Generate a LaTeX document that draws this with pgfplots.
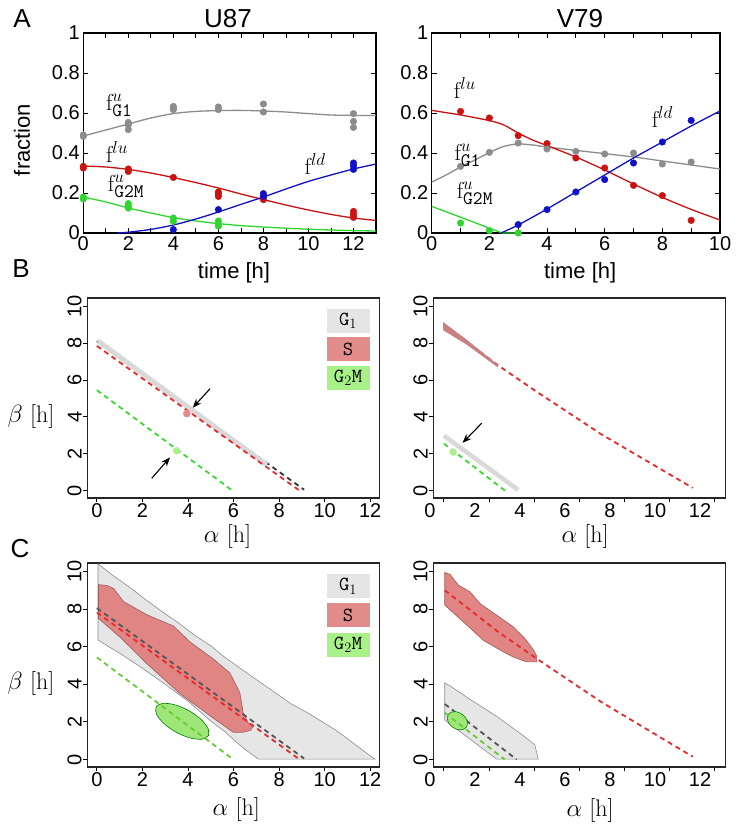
\documentclass[border=0pt]{standalone}
\usepackage{pgfplots}
\pgfplotsset{compat=1.18}
\usetikzlibrary{arrows.meta}
\usepackage{fontspec}
\setsansfont{Liberation Sans}
\DeclareMathSizes{23}{23}{19}{14}
\definecolor{agray}{HTML}{8C8C8C}
\definecolor{ared}{HTML}{CC1111}
\definecolor{agreen}{HTML}{2ED62E}
\definecolor{ablue}{HTML}{1010CC}
\definecolor{bandgray}{HTML}{D9D9D9}
\definecolor{dred}{HTML}{E82A2A}
\definecolor{dgreen}{HTML}{3ADB2E}
\definecolor{dgreenC}{HTML}{66CC33}
\definecolor{dgray}{HTML}{555555}
\definecolor{legG}{HTML}{E5E5E5}
\definecolor{legS}{HTML}{E28C8C}
\definecolor{legM}{HTML}{A8F088}
\definecolor{regG}{HTML}{E6E6E6}
\definecolor{regS}{HTML}{E08484}
\definecolor{regM}{HTML}{9EE677}
\definecolor{bandS}{HTML}{C98080}
\tikzset{
  ann/.style={font=\fontsize{23}{23}\selectfont, inner sep=0pt},
  arr/.style={black, line width=1.1pt, -{Stealth[length=9pt,width=7pt]}},
  ddash/.style={line width=1.8pt, dash pattern=on 5pt off 4pt}
}
\pgfplotsset{
  Aax/.style={scale only axis, height=200pt, ymin=0, ymax=1, xmin=0,
    ytick={0,0.2,0.4,0.6,0.8,1}, yticklabels={0,0.2,0.4,0.6,0.8,1},
    tick align=inside, minor x tick num=1,
    major tick length=5pt, minor tick length=5pt,
    tick style={black, line width=0.8pt},
    axis line style={line width=1.3pt},
    ticklabel style={font=\sffamily\fontsize{20}{20}\selectfont},
    /pgf/number format/assume math mode=true,
    xlabel={time [h]},
    label style={font=\sffamily\fontsize{22}{22}\selectfont},
    xlabel style={at={(axis description cs:0.515,-0.2)}, anchor=center},
    clip mode=individual},
  Bax/.style={scale only axis, width=292pt, ymin=-0.4, ymax=10.45,
    xtick={0,2,...,12}, ytick={0,2,...,10},
    tick align=outside, tick pos=left,
    major tick length=4pt,
    tick style={black, line width=0.8pt},
    axis line style={line width=1.6pt, black!85},
    ticklabel style={font=\sffamily\fontsize{20}{20}\selectfont, inner sep=1.5pt},
    yticklabel style={rotate=90, anchor=south},
    /pgf/number format/assume math mode=true,
    xlabel={$\alpha$ [h]},
    label style={font=\fontsize{24}{24}\selectfont},
    clip mode=individual},
  fdot/.style={only marks, mark=*, mark size=3.3pt}
}
\newcommand{\legboxes}{%
  \node[fill=legG, minimum width=43pt, minimum height=24pt, inner sep=0pt, font=\fontsize{20}{20}\selectfont] at (rel axis cs:0.893,0.886) {\texttt{G}$_1$};
  \node[fill=legS, minimum width=43pt, minimum height=24pt, inner sep=0pt, font=\fontsize{20}{20}\selectfont] at (rel axis cs:0.893,0.743) {\texttt{S}};
  \node[fill=legM, minimum width=43pt, minimum height=24pt, inner sep=0pt, font=\fontsize{20}{20}\selectfont] at (rel axis cs:0.893,0.600) {\texttt{G}$_2$\texttt{M}};
}
\begin{document}
\begin{tikzpicture}
\useasboundingbox (0pt,0pt) rectangle (739pt,-834pt);
\node[font=\sffamily\fontsize{26}{26}\selectfont] at (22pt,-19pt) {A};
\node[font=\sffamily\fontsize{26}{26}\selectfont] at (21pt,-269pt) {B};
\node[font=\sffamily\fontsize{26}{26}\selectfont] at (20pt,-549pt) {C};
\node[font=\sffamily\fontsize{26}{26}\selectfont] at (228pt,-19pt) {U87};
\node[font=\sffamily\fontsize{26}{26}\selectfont] at (580pt,-19pt) {V79};

% ---------------- A left (U87)
\begin{axis}[Aax, at={(83.3pt,-233pt)}, anchor=south west, width=292.7pt,
  xmax=13, xtick={0,2,...,12},
  ylabel={fraction},
  ylabel style={at={(axis description cs:-0.209,0.465)}, anchor=center}]
\addplot[agray, line width=1.3pt, smooth] coordinates {(0,0.485)(1,0.515)(2,0.545)(3,0.575)(4,0.597)(5,0.608)(6,0.612)(7,0.613)(8,0.61)(9,0.605)(10,0.597)(11,0.59)(12,0.588)(13,0.588)};
\addplot[ared, line width=1.3pt, smooth] coordinates {(0,0.335)(1,0.33)(2,0.318)(3,0.3)(4,0.277)(5,0.252)(6,0.225)(7,0.195)(8,0.167)(9,0.14)(10,0.115)(11,0.093)(12,0.075)(13,0.063)};
\addplot[agreen, line width=1.3pt, smooth] coordinates {(0,0.18)(1,0.155)(2,0.125)(3,0.1)(4,0.077)(5,0.06)(6,0.047)(7,0.037)(8,0.03)(9,0.024)(10,0.019)(11,0.015)(12,0.012)(13,0.01)};
\addplot[ablue, line width=1.3pt, smooth] coordinates {(1.5,0.0)(2,0.004)(3,0.018)(4,0.04)(5,0.07)(6,0.105)(7,0.143)(8,0.18)(9,0.22)(10,0.258)(11,0.29)(12,0.32)(13,0.345)};
\addplot[fdot, agray] coordinates {(0,0.49)(0,0.483)(2,0.553)(2,0.54)(2,0.517)(4,0.633)(4,0.625)(4,0.617)(6,0.63)(6,0.617)(8,0.645)(8,0.605)(12,0.597)(12,0.558)(12,0.528)};
\addplot[fdot, ared] coordinates {(0,0.333)(0,0.325)(2,0.32)(2,0.308)(4,0.278)(6,0.205)(6,0.195)(6,0.183)(8,0.18)(8,0.167)(12,0.108)(12,0.092)(12,0.078)};
\addplot[fdot, agreen] coordinates {(0,0.18)(0,0.17)(2,0.147)(2,0.135)(2,0.125)(4,0.075)(4,0.058)(6,0.06)(6,0.045)(6,0.035)};
\addplot[fdot, ablue] coordinates {(4,0.017)(6,0.117)(8,0.197)(8,0.183)(12,0.35)(12,0.335)(12,0.318)};
\node[ann] at (axis cs:1.6,0.64) {$\mathrm{f}^{u}_{\mathtt{G1}}$};
\node[ann] at (axis cs:1.5,0.405) {$\mathrm{f}^{lu}$};
\node[ann] at (axis cs:1.9,0.235) {$\mathrm{f}^{u}_{\mathtt{G2M}}$};
\node[ann] at (axis cs:10.3,0.345) {$\mathrm{f}^{ld}$};
\end{axis}

% ---------------- A right (V79)
\begin{axis}[Aax, at={(431.7pt,-233pt)}, anchor=south west, width=288.3pt,
  xmax=10, xtick={0,2,...,10}]
\addplot[agray, line width=1.3pt, smooth] coordinates {(0,0.255)(0.5,0.29)(1,0.33)(1.5,0.365)(2,0.402)(2.5,0.433)(3,0.445)(3.5,0.44)(4,0.43)(5,0.413)(6,0.397)(7,0.38)(8,0.36)(9,0.34)(10,0.32)};
\addplot[ared, line width=1.3pt, smooth] coordinates {(0,0.613)(1,0.59)(2,0.562)(2.5,0.54)(3,0.5)(3.5,0.465)(4,0.437)(5,0.38)(6,0.315)(7,0.245)(8,0.178)(9,0.118)(10,0.065)};
\addplot[agreen, line width=1.3pt] coordinates {(0,0.133)(1,0.079)(2,0.024)(2.45,0)(3,0)};
\addplot[ablue, line width=1.3pt, smooth] coordinates {(2.4,0)(3,0.04)(4,0.12)(5,0.205)(6,0.29)(7,0.375)(8,0.455)(9,0.535)(10,0.61)};
\addplot[fdot, ared] coordinates {(1,0.608)(2,0.575)(3,0.487)(4,0.447)(5,0.375)(6,0.325)(7,0.238)(8,0.187)(9,0.063)};
\addplot[fdot, agray] coordinates {(1,0.333)(2,0.403)(3,0.45)(4,0.42)(5,0.408)(6,0.395)(7,0.4)(8,0.345)(9,0.355)};
\addplot[fdot, ablue] coordinates {(3,0.042)(4,0.117)(5,0.205)(6,0.267)(7,0.35)(8,0.455)(9,0.563)};
\addplot[fdot, agreen] coordinates {(1,0.05)(2,0.012)(3,0.0)};
\node[ann] at (axis cs:1.15,0.725) {$\mathrm{f}^{lu}$};
\node[ann] at (axis cs:1.25,0.39) {$\mathrm{f}^{u}_{\mathtt{G1}}$};
\node[ann] at (axis cs:1.5,0.2) {$\mathrm{f}^{u}_{\mathtt{G2M}}$};
\node[ann] at (axis cs:8.0,0.578) {$\mathrm{f}^{ld}$};
\end{axis}

% ---------------- B left
\begin{axis}[Bax, at={(87.3pt,-498pt)}, anchor=south west, height=200pt,
  xmin=-0.42, xmax=12.4,
  xlabel style={at={(axis description cs:0.48,-0.19)}, anchor=center},
  ylabel={$\beta$ [h]},
  ylabel style={rotate=-90, at={(axis description cs:-0.193,0.41)}, anchor=center}]
\addplot[dgray!60!black, ddash] coordinates {(0,8.1)(9.1,0.05)};
\addplot[bandgray, line width=5pt] coordinates {(0.05,8.12)(7.45,1.4)};
\addplot[dred, ddash] coordinates {(0,7.85)(8.9,0)};
\addplot[dgreen, ddash] coordinates {(0,5.45)(5.95,0)};
\addplot[only marks, mark=*, mark size=3.6pt, legS] coordinates {(3.95,4.18)};
\addplot[only marks, mark=*, mark size=3.4pt, legM] coordinates {(3.5,2.16)};
\addplot[arr] coordinates {(4.97,5.53)(4.21,4.5)};
\addplot[arr] coordinates {(2.41,0.67)(3.21,1.8)};
\legboxes
\end{axis}

% ---------------- B right
\begin{axis}[Bax, at={(433.3pt,-498pt)}, anchor=south west, height=200pt,
  xmin=-0.47, xmax=12.5,
  xticklabel style={xshift=-14pt},
  xlabel style={at={(axis description cs:0.52,-0.19)}, anchor=center}]
\addplot[dred, ddash] coordinates {(0,9.02)(2.4,6.8)(4.2,5.3)(7,3.05)(11.05,0.15)};
\addplot[bandS, fill=bandS, draw=none] coordinates {(-0.03,9.14)(1.0,8.2)(2.4,6.82)(2.4,6.68)(1.0,7.93)(-0.03,8.7)} -- cycle;
\addplot[bandgray, line width=4.5pt] coordinates {(0,2.98)(3.3,0.04)};
\addplot[dgreen, ddash] coordinates {(0,2.55)(2.71,0)};
\addplot[only marks, mark=*, mark size=3.4pt, legM] coordinates {(0.41,2.09)};
\addplot[arr] coordinates {(1.68,3.66)(0.83,2.59)};
\end{axis}

% ---------------- C left
\begin{axis}[Bax, at={(87.3pt,-767pt)}, anchor=south west, height=204pt,
  xmin=-0.42, xmax=12.4,
  xlabel style={at={(axis description cs:0.51,-0.206)}, anchor=center},
  ylabel={$\beta$ [h]},
  ylabel style={rotate=-90, at={(axis description cs:-0.193,0.41)}, anchor=center}]
\addplot[fill=regG, draw=agray, line width=0.6pt] coordinates {(0.05,10.4)(0.7,9.8)(1.5,9.1)(2.2,8.45)(3.0,7.75)(3.6,7.25)(4.3,6.6)(5.0,6.05)(5.6,5.45)(6.3,4.85)(7.0,4.25)(7.6,3.75)(8.5,2.98)(9.3,2.45)(9.9,2.0)(10.5,1.55)(10.9,1.2)(11.55,0.6)(12.2,0.02)(7.1,0.02)(6.6,0.45)(6.1,0.95)(5.6,1.5)(5.0,2.05)(4.0,3.1)(3.0,4.0)(2.0,4.85)(1.0,5.65)(0.05,6.35)} -- cycle;
\addplot[fill=regS, draw=regS!70!black, line width=0.6pt] coordinates {(0.07,9.3)(0.45,9.25)(0.73,9.1)(1.17,8.4)(2.19,7.7)(3.36,7.1)(4.09,6.25)(5.11,5.35)(5.84,4.6)(6.28,3.55)(6.42,2.5)(6.64,1.95)(6.85,1.75)(6.75,1.55)(6.42,1.45)(5.98,1.45)(5.11,2.2)(3.65,3.5)(2.19,5.1)(1.02,6.5)(0.07,7.5)} -- cycle;
\addplot[fill=regM, draw=green!50!black, line width=0.6pt, smooth] coordinates {(4.899,1.269)(4.876,1.664)(4.553,2.156)(4.013,2.615)(3.403,2.918)(2.886,2.982)(2.601,2.791)(2.624,2.396)(2.947,1.904)(3.487,1.445)(4.097,1.142)(4.614,1.078)(4.899,1.269)};
\addplot[dgray, ddash] coordinates {(0,8.05)(9.1,0.05)};
\addplot[dred, ddash] coordinates {(0,7.82)(8.9,0)};
\addplot[dgreenC, ddash] coordinates {(0,5.43)(5.99,0)};
\legboxes
\end{axis}

% ---------------- C right
\begin{axis}[Bax, at={(433.3pt,-767pt)}, anchor=south west, height=204pt,
  xmin=-0.47, xmax=12.5,
  xticklabel style={xshift=-14pt},
  xlabel style={at={(axis description cs:0.537,-0.211)}, anchor=center}]
\addplot[fill=regS, draw=regS!70!black, line width=0.6pt] coordinates {(0.04,9.95)(0.27,9.85)(0.64,9.28)(1.16,8.92)(1.6,8.3)(2.34,7.68)(3.08,7.06)(3.6,6.43)(3.97,5.85)(4.12,5.5)(4.12,5.19)(3.67,5.19)(3.08,5.45)(2.64,5.72)(1.75,6.34)(0.86,7.32)(0.04,8.21)} -- cycle;
\addplot[dred, ddash] coordinates {(0.04,9.0)(2.4,6.8)(4.2,5.3)(7,3.05)(11.05,0.15)};
\addplot[fill=regG, draw=agray, line width=0.6pt] coordinates {(0.04,4.08)(0.33,3.87)(1.16,3.2)(2.34,2.3)(3.67,1.14)(4.04,0.78)(4.19,0.02)(2.34,0.02)(0.04,2.09)} -- cycle;
\addplot[dgray, ddash] coordinates {(0.04,2.95)(3.23,0)};
\addplot[fill=regM, draw=green!50!black, line width=0.6pt, smooth] coordinates {(1.0,1.724)(1.048,1.944)(0.977,2.194)(0.804,2.409)(0.577,2.53)(0.356,2.526)(0.2,2.396)(0.152,2.176)(0.223,1.926)(0.396,1.711)(0.623,1.59)(0.844,1.594)(1.0,1.724)};
\addplot[dgreenC, ddash] coordinates {(0.04,2.48)(2.7,0)};
\end{axis}
\end{tikzpicture}
\end{document}
